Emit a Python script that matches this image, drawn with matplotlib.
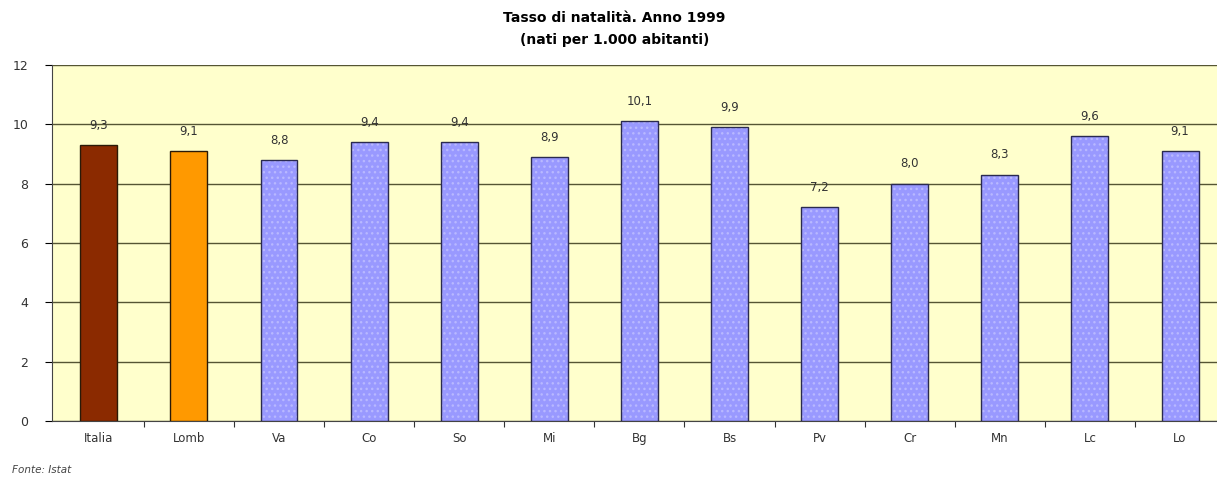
import numpy as np
import matplotlib
matplotlib.use("Agg")
import matplotlib.pyplot as plt

# dati: tasso di natalita' 1999 (nati per 1.000 abitanti)
aree = ["Italia", "Lomb", "Va", "Co", "So", "Mi", "Bg", "Bs", "Pv", "Cr", "Mn", "Lc", "Lo"]
valori = [9.3, 9.1, 8.8, 9.4, 9.4, 8.9, 10.1, 9.9, 7.2, 8.0, 8.3, 9.6, 9.1]
colori = ["#8B2A00", "#FF9900"] + ["#9999FF"] * 11

fig = plt.figure(figsize=(12.17, 4.82), dpi=100)
ax = fig.add_axes([0.0427, 0.1266, 0.9573, 0.7384])
ax.set_facecolor("#FFFFCC")

x = np.arange(len(aree))
w = 0.41

# riempimento, con puntini per le province
for i in range(len(aree)):
    if i < 2:
        ax.bar(x[i], valori[i], w, color=colori[i], edgecolor="#2a1a08", linewidth=1.0, zorder=3)
    else:
        ax.bar(x[i], valori[i], w, color=colori[i], edgecolor="#B8B8FF", hatch="...",
               linewidth=0, zorder=3)
        ax.bar(x[i], valori[i], w, color="none", edgecolor="#2a2a50", linewidth=1.0, zorder=4)

for xi, v in zip(x, valori):
    ax.text(xi, v + 0.45, f"{v:.1f}".replace(".", ","), ha="center", va="bottom",
            fontsize=8.5, color="#333333", zorder=5)

ax.set_ylim(0, 12)
ax.set_xlim(-0.52, 12.41)
ax.set_yticks(range(0, 13, 2))
ax.yaxis.grid(True, color="#555533", linewidth=1.0, zorder=1)
ax.set_axisbelow(True)

# trattini tra le categorie
ax.set_xticks(x[:-1] + 0.5)
ax.set_xticklabels([])
ax.set_xticks(x, minor=True)
ax.set_xticklabels(aree, minor=True)
ax.tick_params(axis="x", which="minor", length=0, pad=8, labelsize=8.5, labelcolor="#333333")
ax.tick_params(axis="x", which="major", length=4, direction="out", color="#333333")
ax.tick_params(axis="y", length=5, direction="out", labelsize=9, labelcolor="#333333", pad=12)

for s in ["top", "right"]:
    ax.spines[s].set_visible(False)
ax.spines["left"].set_color("#444444")
ax.spines["bottom"].set_color("#444444")

fig.text(0.505, 0.963, "Tasso di natalità. Anno 1999", ha="center", va="center",
         fontsize=10, fontweight="bold")
fig.text(0.505, 0.917, "(nati per 1.000 abitanti)", ha="center", va="center",
         fontsize=10, fontweight="bold")
fig.text(0.01, 0.025, "Fonte: Istat", ha="left", va="center", fontsize=7.5,
         style="italic", color="#444444")

fig.savefig("out.png", dpi=100)
